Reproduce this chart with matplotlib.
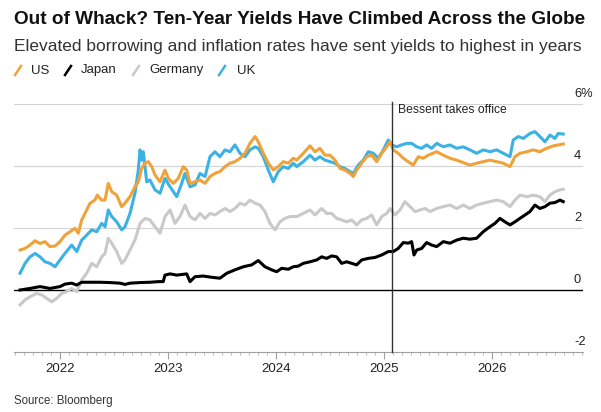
import numpy as np
import matplotlib
matplotlib.use("Agg")
import matplotlib.pyplot as plt
from matplotlib.lines import Line2D
from matplotlib.transforms import offset_copy

plt.rcParams['font.family'] = ['Liberation Sans', 'DejaVu Sans']

# ---------------- data (decimal years, yield %) ----------------
us_dates = [2021.630, 2021.676, 2021.722, 2021.769, 2021.815, 2021.861, 2021.907, 2021.954, 2022.000, 2022.046,
            2022.093, 2022.139, 2022.169, 2022.201, 2022.231, 2022.278, 2022.324, 2022.345, 2022.386, 2022.417,
            2022.447, 2022.479, 2022.525, 2022.571, 2022.602, 2022.648, 2022.694, 2022.725, 2022.756, 2022.787,
            2022.818, 2022.849, 2022.880, 2022.926, 2022.972, 2023.003, 2023.049, 2023.095, 2023.142, 2023.173,
            2023.204, 2023.250, 2023.296, 2023.343, 2023.389, 2023.435, 2023.481, 2023.528, 2023.574, 2023.620,
            2023.667, 2023.713, 2023.759, 2023.806, 2023.836, 2023.882, 2023.929, 2023.975, 2024.021, 2024.068,
            2024.114, 2024.160, 2024.192, 2024.253, 2024.315, 2024.361, 2024.407, 2024.454, 2024.500, 2024.546,
            2024.593, 2024.639, 2024.685, 2024.716, 2024.747, 2024.794, 2024.840, 2024.886, 2024.932, 2024.979,
            2025.025, 2025.056, 2025.086, 2025.132, 2025.179, 2025.225, 2025.271, 2025.318, 2025.364, 2025.410,
            2025.488, 2025.549, 2025.611, 2025.673, 2025.734, 2025.796, 2025.858, 2025.919, 2025.981, 2026.044,
            2026.105, 2026.167, 2026.213, 2026.259, 2026.321, 2026.382, 2026.444, 2026.506, 2026.568, 2026.614,
            2026.660]
us_vals = [1.29, 1.34, 1.45, 1.59, 1.50, 1.56, 1.40, 1.42, 1.56, 1.77,
           1.88, 1.99, 1.83, 2.26, 2.47, 2.80, 2.90, 3.06, 2.90, 2.90,
           3.44, 3.17, 3.06, 2.69, 2.80, 3.01, 3.33, 3.49, 3.92, 4.09,
           4.14, 3.98, 3.71, 3.49, 3.87, 3.60, 3.44, 3.60, 3.98, 3.87,
           3.44, 3.49, 3.55, 3.44, 3.66, 3.76, 3.82, 3.98, 4.09, 4.14,
           4.25, 4.41, 4.73, 4.95, 4.78, 4.41, 4.09, 3.87, 3.98, 4.14,
           4.09, 4.25, 4.19, 4.41, 4.65, 4.46, 4.57, 4.35, 4.35, 4.19,
           3.92, 3.87, 3.76, 3.66, 3.87, 4.09, 4.30, 4.35, 4.14, 4.41,
           4.62, 4.78, 4.52, 4.41, 4.25, 4.14, 4.03, 4.30, 4.25, 4.35,
           4.46, 4.35, 4.25, 4.19, 4.11, 4.03, 4.09, 4.14, 4.19, 4.14,
           4.09, 3.98, 4.30, 4.41, 4.46, 4.52, 4.46, 4.57, 4.65, 4.68,
           4.71]

uk_dates = [2021.630, 2021.676, 2021.722, 2021.769, 2021.815, 2021.861, 2021.907, 2021.954, 2022.000, 2022.046,
            2022.108, 2022.155, 2022.201, 2022.247, 2022.294, 2022.340, 2022.386, 2022.417, 2022.447, 2022.479,
            2022.525, 2022.571, 2022.602, 2022.648, 2022.694, 2022.725, 2022.741, 2022.756, 2022.771, 2022.803,
            2022.833, 2022.880, 2022.926, 2022.972, 2023.019, 2023.081, 2023.127, 2023.157, 2023.204, 2023.250,
            2023.296, 2023.343, 2023.389, 2023.435, 2023.481, 2023.528, 2023.574, 2023.620, 2023.667, 2023.713,
            2023.759, 2023.806, 2023.836, 2023.882, 2023.929, 2023.975, 2024.021, 2024.068, 2024.114, 2024.160,
            2024.192, 2024.253, 2024.315, 2024.361, 2024.407, 2024.454, 2024.500, 2024.546, 2024.593, 2024.639,
            2024.685, 2024.716, 2024.762, 2024.808, 2024.855, 2024.901, 2024.947, 2024.994, 2025.040, 2025.071,
            2025.117, 2025.164, 2025.210, 2025.256, 2025.303, 2025.349, 2025.395, 2025.441, 2025.488, 2025.549,
            2025.611, 2025.673, 2025.734, 2025.796, 2025.858, 2025.919, 2025.981, 2026.044, 2026.105, 2026.167,
            2026.197, 2026.244, 2026.290, 2026.352, 2026.398, 2026.444, 2026.491, 2026.537, 2026.583, 2026.614,
            2026.660]
uk_vals = [0.54, 0.86, 1.07, 1.18, 1.07, 0.91, 0.86, 0.75, 0.97, 1.18,
           1.45, 1.24, 1.61, 1.77, 1.94, 1.88, 2.15, 2.04, 2.58, 2.37,
           2.20, 1.94, 2.04, 2.47, 3.12, 3.87, 4.52, 4.19, 4.46, 3.49,
           3.55, 3.23, 3.12, 3.60, 3.33, 3.01, 3.44, 3.76, 3.33, 3.39,
           3.76, 3.66, 4.30, 4.46, 4.30, 4.52, 4.46, 4.68, 4.41, 4.30,
           4.52, 4.62, 4.57, 4.30, 3.87, 3.49, 3.82, 3.98, 3.92, 4.09,
           3.98, 4.14, 4.35, 4.19, 4.30, 4.19, 4.14, 4.09, 3.98, 3.92,
           3.82, 3.76, 4.03, 4.19, 4.46, 4.41, 4.25, 4.52, 4.84, 4.68,
           4.62, 4.68, 4.73, 4.73, 4.62, 4.57, 4.68, 4.57, 4.73, 4.62,
           4.68, 4.57, 4.62, 4.52, 4.41, 4.52, 4.46, 4.52, 4.41, 4.30,
           4.84, 4.95, 4.89, 5.05, 5.11, 4.95, 4.78, 5.00, 4.89, 5.05,
           5.03]

de_dates = [2021.630, 2021.676, 2021.722, 2021.784, 2021.831, 2021.877, 2021.923, 2021.969, 2022.016, 2022.062,
            2022.108, 2022.155, 2022.201, 2022.247, 2022.294, 2022.340, 2022.386, 2022.417, 2022.447, 2022.479,
            2022.525, 2022.571, 2022.602, 2022.648, 2022.694, 2022.741, 2022.787, 2022.833, 2022.880, 2022.926,
            2022.972, 2023.019, 2023.065, 2023.111, 2023.157, 2023.204, 2023.250, 2023.296, 2023.343, 2023.389,
            2023.435, 2023.481, 2023.528, 2023.574, 2023.620, 2023.667, 2023.713, 2023.759, 2023.806, 2023.852,
            2023.898, 2023.944, 2023.991, 2024.037, 2024.083, 2024.130, 2024.192, 2024.253, 2024.315, 2024.361,
            2024.423, 2024.469, 2024.516, 2024.562, 2024.608, 2024.655, 2024.701, 2024.747, 2024.794, 2024.840,
            2024.886, 2024.932, 2024.979, 2025.025, 2025.056, 2025.102, 2025.148, 2025.194, 2025.241, 2025.287,
            2025.333, 2025.380, 2025.426, 2025.488, 2025.549, 2025.611, 2025.673, 2025.734, 2025.796, 2025.858,
            2025.919, 2025.981, 2026.044, 2026.105, 2026.167, 2026.213, 2026.259, 2026.321, 2026.382, 2026.444,
            2026.491, 2026.537, 2026.583, 2026.630, 2026.660]
de_vals = [-0.48, -0.32, -0.22, -0.11, -0.16, -0.27, -0.38, -0.27, -0.11, -0.05,
           0.05, -0.05, 0.32, 0.54, 0.86, 0.75, 1.07, 1.18, 1.67, 1.51,
           1.24, 0.86, 0.97, 1.29, 1.61, 2.15, 2.31, 2.26, 2.04, 1.83,
           2.37, 2.58, 2.15, 2.37, 2.74, 2.37, 2.26, 2.47, 2.31, 2.47,
           2.42, 2.53, 2.63, 2.53, 2.63, 2.80, 2.74, 2.90, 2.80, 2.74,
           2.53, 2.15, 1.94, 2.20, 2.31, 2.37, 2.37, 2.47, 2.58, 2.42,
           2.63, 2.47, 2.47, 2.31, 2.26, 2.20, 2.26, 2.10, 2.26, 2.31,
           2.42, 2.10, 2.37, 2.47, 2.63, 2.42, 2.58, 2.85, 2.69, 2.53,
           2.58, 2.63, 2.53, 2.63, 2.69, 2.74, 2.63, 2.74, 2.63, 2.74,
           2.80, 2.85, 2.90, 2.85, 2.69, 2.90, 3.06, 3.01, 3.06, 3.01,
           2.85, 3.06, 3.17, 3.23, 3.25]

jp_dates = [2021.630, 2021.722, 2021.815, 2021.907, 2022.000, 2022.046, 2022.108, 2022.155, 2022.201, 2022.278,
            2022.370, 2022.463, 2022.556, 2022.602, 2022.648, 2022.741, 2022.833, 2022.910, 2022.956, 2022.972,
            2023.019, 2023.081, 2023.173, 2023.204, 2023.250, 2023.327, 2023.405, 2023.481, 2023.544, 2023.620,
            2023.697, 2023.775, 2023.836, 2023.898, 2023.960, 2024.006, 2024.053, 2024.114, 2024.160, 2024.206,
            2024.253, 2024.315, 2024.377, 2024.423, 2024.469, 2024.516, 2024.562, 2024.608, 2024.655, 2024.701,
            2024.747, 2024.794, 2024.855, 2024.917, 2024.979, 2025.040, 2025.086, 2025.132, 2025.179, 2025.225,
            2025.256, 2025.278, 2025.303, 2025.349, 2025.395, 2025.441, 2025.488, 2025.549, 2025.611, 2025.673,
            2025.734, 2025.796, 2025.858, 2025.919, 2025.981, 2026.028, 2026.074, 2026.120, 2026.167, 2026.213,
            2026.259, 2026.306, 2026.352, 2026.398, 2026.444, 2026.491, 2026.537, 2026.583, 2026.630, 2026.660]
jp_vals = [0.00, 0.05, 0.11, 0.05, 0.11, 0.19, 0.22, 0.16, 0.25, 0.25,
           0.25, 0.24, 0.22, 0.18, 0.22, 0.24, 0.25, 0.27, 0.27, 0.48,
           0.52, 0.48, 0.52, 0.27, 0.43, 0.45, 0.41, 0.38, 0.54, 0.65,
           0.75, 0.81, 0.95, 0.75, 0.65, 0.59, 0.70, 0.67, 0.75, 0.77,
           0.86, 0.91, 0.97, 1.07, 1.02, 1.10, 1.07, 0.86, 0.91, 0.86,
           0.81, 0.97, 1.02, 1.05, 1.13, 1.24, 1.24, 1.34, 1.53, 1.51,
           1.56, 1.13, 1.29, 1.34, 1.53, 1.45, 1.40, 1.56, 1.51, 1.61,
           1.67, 1.64, 1.67, 1.88, 2.04, 2.15, 2.31, 2.20, 2.10, 2.20,
           2.31, 2.42, 2.53, 2.74, 2.63, 2.69, 2.80, 2.82, 2.90, 2.85]

series_names = ["US", "Japan", "Germany", "UK"]
series_colors = {"US": "#f0a23a", "Japan": "#000000", "Germany": "#c9c9c9", "UK": "#3bb2e3"}
year_ticks = [2022, 2023, 2024, 2025, 2026]
y_labels = [(6, "6%"), (4, "4"), (2, "2"), (0, "0"), (-2, "-2")]
bessent_date = 2025.074
bessent_label = "Bessent takes office"

title = "Out of Whack? Ten-Year Yields Have Climbed Across the Globe"
subtitle = "Elevated borrowing and inflation rates have sent yields to highest in years"
source = "Source: Bloomberg"

# ---------------- figure ----------------
W, H = 601, 412
fig = plt.figure(figsize=(W / 100, H / 100), dpi=100)
fig.patch.set_facecolor("white")

def fx(px):
    return px / W

def fy(py):
    return 1 - py / H

ax = fig.add_axes([fx(14), fy(352), fx(583) - fx(14), fy(104) - fy(352)])
ax.set_xlim(2021.574, 2026.843)
ax.set_ylim(-2, 6)
ax.set_facecolor("white")
for s in ["top", "left", "right"]:
    ax.spines[s].set_visible(False)
ax.spines["bottom"].set_color("#a0a0a0")
ax.spines["bottom"].set_linewidth(0.8)

for v in [2, 4, 6]:
    ax.axhline(v, color="#d3d3d3", lw=0.8, zorder=1)
ax.axhline(0, color="#000000", lw=1.0, zorder=2)

LW = 2.2
ax.plot(de_dates, de_vals, color=series_colors["Germany"], lw=LW, zorder=3, solid_joinstyle="round")
ax.plot(jp_dates, jp_vals, color=series_colors["Japan"], lw=LW, zorder=4, solid_joinstyle="round")
ax.plot(uk_dates, uk_vals, color=series_colors["UK"], lw=LW, zorder=5, solid_joinstyle="round")
ax.plot(us_dates, us_vals, color=series_colors["US"], lw=LW, zorder=6, solid_joinstyle="round")

ax.axvline(bessent_date, ymin=0, ymax=1.01, color="#333333", lw=1.0, zorder=7, clip_on=False)
ax.text(bessent_date + 0.06, 5.8, bessent_label, fontsize=8.7, color="#222222",
        va="center", ha="left", zorder=8)

# right-side y labels, above gridlines
ytrans = offset_copy(ax.get_yaxis_transform(), fig=fig, x=0, y=3.0, units="points")
for v, lab in y_labels:
    ax.text((574 - 14) / (583 - 14), v, lab, transform=ytrans, fontsize=9.3,
            color="#222222", ha="left", va="bottom")
ax.set_yticks([])

# x ticks
ax.set_xticks(year_ticks)
ax.set_xticklabels([str(y) for y in year_ticks])
minor = [y + m / 12 for y in range(2021, 2027) for m in range(12)
         if 2021.574 <= y + m / 12 <= 2026.843]
ax.set_xticks(minor, minor=True)
ax.tick_params(axis="x", which="major", length=5, width=0.8, color="#a0a0a0",
               labelsize=9.5, labelcolor="#222222", pad=3)
ax.tick_params(axis="x", which="minor", length=2.5, width=0.6, color="#b0b0b0")

# titles
fig.text(fx(14), fy(19), title, fontsize=13.7, fontweight="bold", color="#111111",
         ha="left", va="center")
fig.text(fx(14), fy(46), subtitle, fontsize=12.5, color="#333333", ha="left", va="center")
fig.text(fx(14), fy(401), source, fontsize=8.3, color="#333333", ha="left", va="center")

# legend
legend_pos = {"US": (15, 31), "Japan": (65, 81), "Germany": (133, 149), "UK": (219, 237)}
for name in series_names:
    sx, tx = legend_pos[name]
    fig.add_artist(Line2D([fx(sx), fx(sx + 6)], [fy(75), fy(66)],
                          color=series_colors[name], lw=1.8, transform=fig.transFigure))
    fig.text(fx(tx), fy(70.5), name, fontsize=9.5, color="#222222", ha="left", va="center")

fig.savefig("out.png", dpi=100, facecolor="white")
